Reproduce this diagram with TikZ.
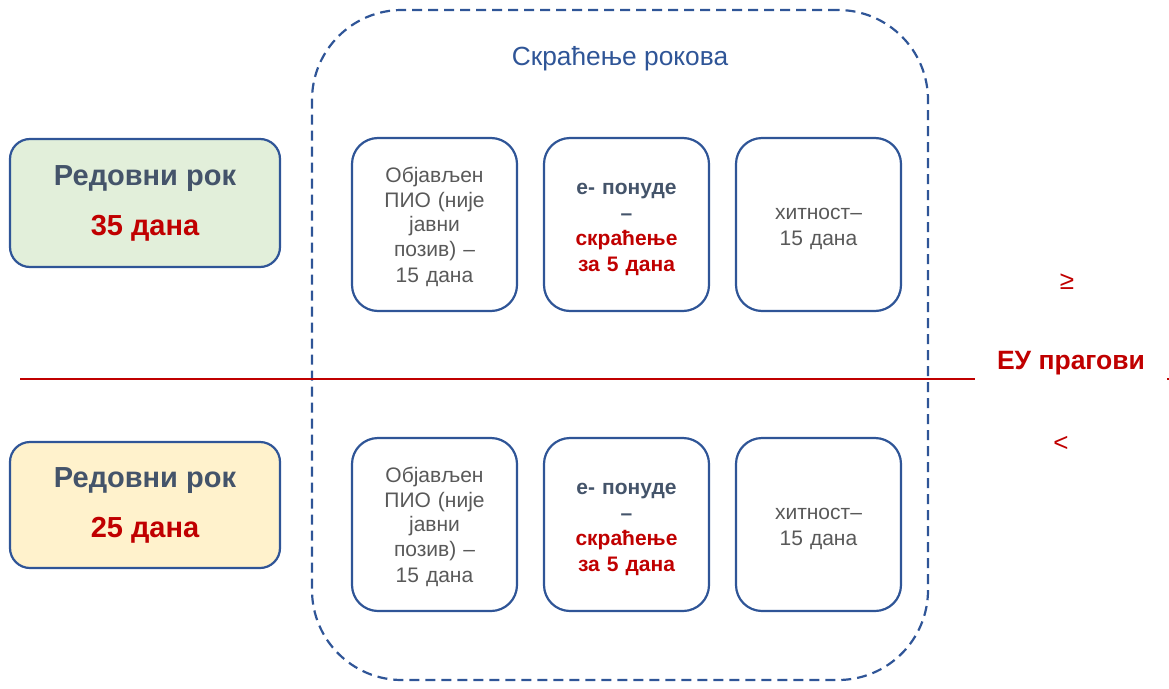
\documentclass[tikz,border=0pt]{standalone}
\usepackage{fontspec}
\setmainfont{Liberation Sans}
\usetikzlibrary{calc}
\definecolor{FrameClr}{HTML}{2F5597}
\definecolor{HeadClr}{HTML}{44546A}
\definecolor{RedClr}{HTML}{C00000}
\definecolor{TextClr}{HTML}{595959}
\definecolor{GreenFill}{HTML}{E2EFDA}
\definecolor{YellowFill}{HTML}{FFF2CC}
\newcommand{\podupor}{\rule[-4pt]{0pt}{25pt}}

\begin{document}
\begin{tikzpicture}[x=1pt,y=-1pt,
  rok/.style={draw=FrameClr,line width=2.2pt,rounded corners=20pt,minimum width=270pt,minimum height=128pt,
    align=center,text=HeadClr,font=\bfseries\fontsize{29}{50}\selectfont},
  mali/.style={draw=FrameClr,line width=2.2pt,rounded corners=26pt,fill=white,minimum width=165pt,minimum height=173pt,
    text width=155pt,align=center,text=TextClr,font=\fontsize{21}{24.5}\selectfont},
  crvena/.style={text=RedClr,font=\bfseries\fontsize{26.5}{30}\selectfont}]
\useasboundingbox (0,0) rectangle (1169,688);

% okvir skracenja
\node[draw=FrameClr,line width=2.2pt,dash pattern=on 10pt off 6pt,rounded corners=90pt,
  minimum width=616pt,minimum height=670pt] (skr) at (620,345) {};
\node[text=FrameClr,font=\fontsize{26.3}{30}\selectfont] (naslov) at (620,59) {Скраћење рокова};

% redovni rokovi
\node[rok,fill=GreenFill] (rokG) at (145,203) {Редовни рок\\\textcolor{RedClr}{35 дана}};
\node[rok,fill=YellowFill,minimum height=126pt] (rokD) at (145,505) {Редовни рок\\\textcolor{RedClr}{25 дана}};

% gornji red
\node[mali] (pioG) at (434.5,224.5) {\podupor Објављен\\ПИО (није\\јавни\\позив) –\\15 дана\podupor};
\node[mali,font=\bfseries\fontsize{21}{25.5}\selectfont] (eG) at (626.5,224.5)
  {\podupor\textcolor{HeadClr}{е- понуде}\\\textcolor{HeadClr}{–}\\\textcolor{RedClr}{скраћење}\\\textcolor{RedClr}{за 5 дана}\podupor};
\node[mali] (hitG) at (818.5,224.5) {\podupor хитност–\\15 дана\podupor};

% donji red
\node[mali] (pioD) at (434.5,524.5) {\podupor Објављен\\ПИО (није\\јавни\\позив) –\\15 дана\podupor};
\node[mali,font=\bfseries\fontsize{21}{25.5}\selectfont] (eD) at (626.5,524.5)
  {\podupor\textcolor{HeadClr}{е- понуде}\\\textcolor{HeadClr}{–}\\\textcolor{RedClr}{скраћење}\\\textcolor{RedClr}{за 5 дана}\podupor};
\node[mali] (hitD) at (818.5,524.5) {\podupor хитност–\\15 дана\podupor};

% EU pragovi
\coordinate (lijevo) at (20,379);
\coordinate (desno) at (1169,379);
\node[crvena,inner xsep=22pt] (eu) at (1071,363) {ЕУ прагови};
\node[crvena,font=\fontsize{26}{30}\selectfont] (vece) at (1067,282) {≥};
\node[crvena,font=\fontsize{26}{30}\selectfont] (manje) at (1061,444) {<};
\draw[RedClr,line width=1.8pt] (lijevo) -- (eu.west |- lijevo);
\draw[RedClr,line width=1.8pt] (eu.east |- lijevo) -- (desno);

\end{tikzpicture}
\end{document}
